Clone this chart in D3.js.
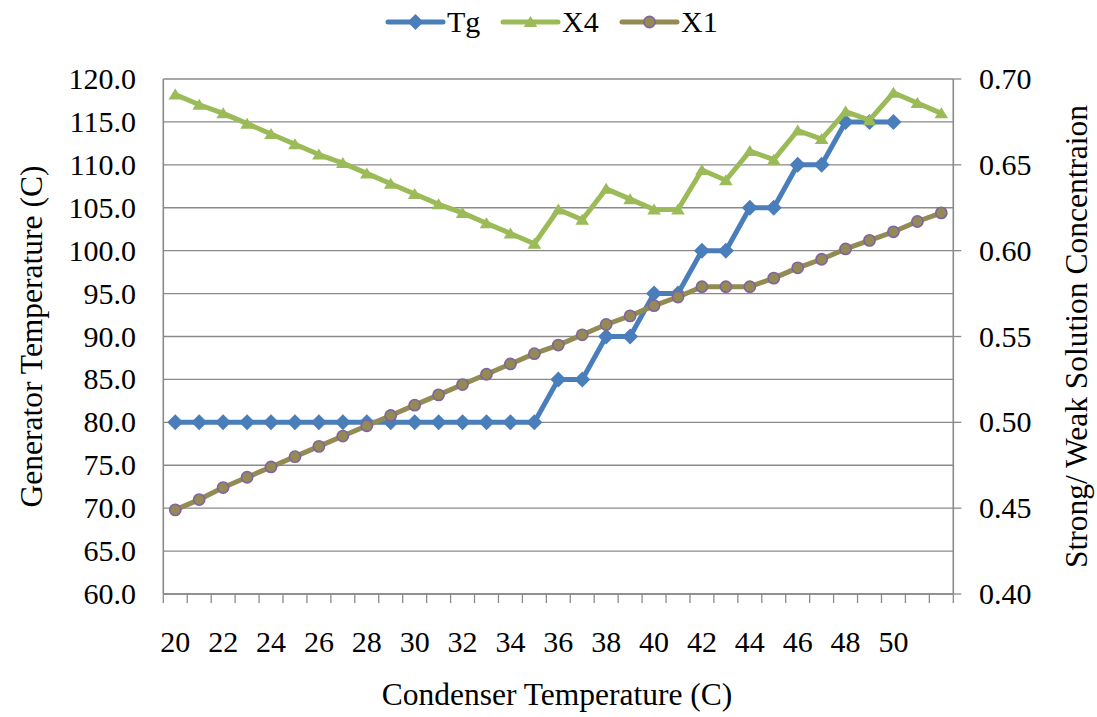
<!DOCTYPE html>
<html>
<head>
<meta charset="utf-8">
<script src="https://cdn.jsdelivr.net/npm/d3@7"></script>
<style>
  html, body { margin: 0; padding: 0; background: #fff; }
  svg { display: block; }
  text { font-family: "Liberation Serif", "Times New Roman", serif; fill: #000; }
</style>
</head>
<body>
<svg id="chart" width="1097" height="717"></svg>
<script>
// Condenser temperature categories (last slot carries no label)
const categories = ["20","21","22","23","24","25","26","27","28","29","30","31","32","33","34","35",
  "36","37","38","39","40","41","42","43","44","45","46","47","48","49","50","51",""];

// Generator temperature (left axis)
const tg = [80,80,80,80,80,80,80,80,80,80,80,80,80,80,80,80,
  85,85,90,90,95,95,100,100,105,105,110,110,115,115,115];

// Strong solution concentration X4 (right axis)
const x4 = [0.691,0.685,0.680,0.674,0.668,0.662,0.656,0.651,0.645,0.639,0.633,0.627,0.622,0.616,0.610,0.604,
  0.624,0.618,0.636,0.630,0.624,0.624,0.647,0.641,0.658,0.653,0.670,0.665,0.681,0.676,0.692,0.686,0.680];

// Weak solution concentration X1 (right axis)
const x1 = [0.449,0.455,0.462,0.468,0.474,0.480,0.486,0.492,0.498,0.504,0.510,0.516,0.522,0.528,0.534,0.540,
  0.545,0.551,0.557,0.562,0.568,0.573,0.579,0.579,0.579,0.584,0.590,0.595,0.601,0.606,0.611,0.617,0.622];

const leftTicks = [60,65,70,75,80,85,90,95,100,105,110,115,120];
const rightTicks = [0.40,0.45,0.50,0.55,0.60,0.65,0.70];

const svg = d3.select("#chart");
const plot = { left: 163.3, right: 953.3, top: 79, bottom: 594 };

const x = d3.scaleBand().domain(d3.range(categories.length)).range([plot.left, plot.right]).padding(0);
const cx = i => x(i) + x.bandwidth() / 2;
const yL = d3.scaleLinear().domain([60, 120]).range([plot.bottom, plot.top]);
const yR = d3.scaleLinear().domain([0.40, 0.70]).range([plot.bottom, plot.top]);

const gridColor = "#8a8a8a";

// horizontal gridlines
svg.append("g").selectAll("line").data(leftTicks).join("line")
  .attr("x1", plot.left).attr("x2", plot.right)
  .attr("y1", d => yL(d)).attr("y2", d => yL(d))
  .attr("stroke", gridColor).attr("stroke-width", 1.3);

// axis lines
svg.append("line").attr("x1", plot.left).attr("x2", plot.left)
  .attr("y1", plot.top).attr("y2", plot.bottom).attr("stroke", gridColor).attr("stroke-width", 1.6);
svg.append("line").attr("x1", plot.right).attr("x2", plot.right)
  .attr("y1", plot.top).attr("y2", plot.bottom).attr("stroke", gridColor).attr("stroke-width", 1.6);
svg.append("line").attr("x1", plot.left).attr("x2", plot.right)
  .attr("y1", plot.bottom).attr("y2", plot.bottom).attr("stroke", gridColor).attr("stroke-width", 1.6);

// category tick marks between categories
const tickPos = d3.range(categories.length + 1).map(k => k < categories.length ? x(k) : plot.right);
svg.append("g").selectAll("line").data(tickPos).join("line")
  .attr("x1", d => d).attr("x2", d => d)
  .attr("y1", plot.bottom).attr("y2", plot.bottom + 9)
  .attr("stroke", gridColor).attr("stroke-width", 1.3);

// right axis tick marks
svg.append("g").selectAll("line").data(rightTicks).join("line")
  .attr("x1", plot.right).attr("x2", plot.right + 8)
  .attr("y1", d => yR(d)).attr("y2", d => yR(d))
  .attr("stroke", gridColor).attr("stroke-width", 1.3);

// tick labels
svg.append("g").selectAll("text").data(leftTicks).join("text")
  .attr("x", 136).attr("y", d => yL(d) + 10)
  .attr("text-anchor", "end").attr("font-size", 30)
  .text(d => d3.format(".1f")(d));

svg.append("g").selectAll("text").data(rightTicks).join("text")
  .attr("x", 979).attr("y", d => yR(d) + 10)
  .attr("text-anchor", "start").attr("font-size", 30)
  .text(d => d3.format(".2f")(d));

svg.append("g").selectAll("text")
  .data(categories.map((c, i) => ({ c, i })).filter(d => d.i % 2 === 0 && d.c !== ""))
  .join("text")
  .attr("x", d => cx(d.i)).attr("y", 652)
  .attr("text-anchor", "middle").attr("font-size", 30)
  .text(d => d.c);

// axis titles
svg.append("text").attr("x", 557).attr("y", 705)
  .attr("text-anchor", "middle").attr("font-size", 31.5)
  .text("Condenser Temperature (C)");

svg.append("text")
  .attr("transform", `translate(42,${(plot.top + plot.bottom) / 2}) rotate(-90)`)
  .attr("text-anchor", "middle").attr("font-size", 31.5)
  .text("Generator Temperature (C)");

svg.append("text")
  .attr("transform", `translate(1087,${(plot.top + plot.bottom) / 2}) rotate(-90)`)
  .attr("text-anchor", "middle").attr("font-size", 31.5)
  .text("Strong/ Weak Solution Concentraion");

// marker shapes
const diamondPath = "M0,-8L8,0L0,8L-8,0Z";
const trianglePath = "M0,-6L6.8,5L-6.8,5Z";

const series = [
  { name: "Tg", values: tg, y: yL, color: "#4a7ebb", marker: "diamond" },
  { name: "X4", values: x4, y: yR, color: "#9bbb59", marker: "triangle" },
  { name: "X1", values: x1, y: yR, color: "#948a54", marker: "circle" }
];

function drawMarker(sel, s) {
  if (s.marker === "diamond") {
    sel.append("path").attr("d", diamondPath).attr("fill", s.color);
  } else if (s.marker === "triangle") {
    sel.append("path").attr("d", trianglePath).attr("fill", s.color);
  } else {
    sel.append("circle").attr("r", 5.6).attr("fill", "#948a54")
      .attr("stroke", "#8064a2").attr("stroke-width", 1.6);
  }
}

series.forEach(s => {
  const pts = s.values.map((v, i) => [cx(i), s.y(v)]);
  svg.append("path")
    .attr("d", d3.line()(pts))
    .attr("fill", "none").attr("stroke", s.color)
    .attr("stroke-width", 5).attr("stroke-linejoin", "round").attr("stroke-linecap", "round");
  svg.append("g").selectAll("g").data(pts).join("g")
    .attr("transform", d => `translate(${d[0]},${d[1]})`)
    .each(function () { drawMarker(d3.select(this), s); });
});

// legend
const legendItems = [
  { s: series[0], x0: 388 },
  { s: series[1], x0: 503 },
  { s: series[2], x0: 622 }
];
const lg = svg.append("g");
legendItems.forEach(({ s, x0 }) => {
  lg.append("line").attr("x1", x0).attr("x2", x0 + 55).attr("y1", 22).attr("y2", 22)
    .attr("stroke", s.color).attr("stroke-width", 5).attr("stroke-linecap", "round");
  const m = lg.append("g").attr("transform", `translate(${x0 + 27.5},22)`);
  drawMarker(m, s);
  lg.append("text").attr("x", x0 + 59).attr("y", 32).attr("font-size", 30).text(s.name);
});
</script>
</body>
</html>
